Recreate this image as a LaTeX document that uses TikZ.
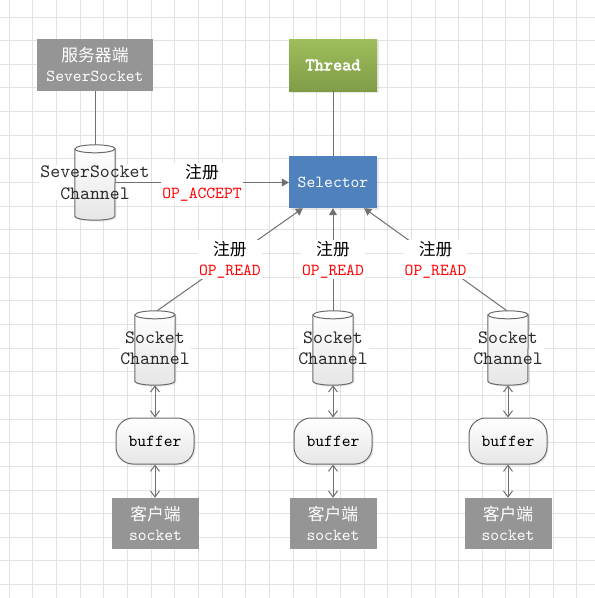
\documentclass[tikz,border=0pt]{standalone}
\usepackage{fontspec}
\newfontfamily\cjk{Noto Sans CJK SC}
\setmonofont{lmmono10-regular.otf}
\newfontfamily\tbold{lmmono10-regular.otf}[FakeBold=3]
\usetikzlibrary{arrows.meta,shadows,calc}
\definecolor{gridc}{HTML}{E2E2E2}
\definecolor{boxgray}{HTML}{959595}
\definecolor{selblue}{HTML}{4F81BD}
\definecolor{thtop}{HTML}{9EBE5C}
\definecolor{thbot}{HTML}{7F9D47}
\definecolor{linec}{HTML}{707070}
\definecolor{cylc}{HTML}{6A6A6A}
\definecolor{txtdark}{HTML}{2B2B2B}
\definecolor{opred}{HTML}{FF0000}
\definecolor{shadec}{HTML}{E6E6E6}
\newcommand{\drawcyl}[1]{%
  \path[cylshade] ([yshift=-4pt]#1.north west) -- ([yshift=4pt]#1.south west)
     arc[start angle=180,end angle=360,x radius=20pt,y radius=4pt]
     -- ([yshift=-4pt]#1.north east)
     arc[start angle=0,end angle=180,x radius=20pt,y radius=4pt] -- cycle;
  \draw[cylc, line width=1pt] ([yshift=-4pt]#1.north west)
     arc[start angle=180,end angle=360,x radius=20pt,y radius=4pt];
}
\begin{document}
\begin{tikzpicture}[x=1pt,y=-1pt,
  mono/.style={font=\ttfamily\fontsize{16.8}{20}\selectfont},
  shad/.style={drop shadow={shadow xshift=1.5pt,shadow yshift=-1.5pt,opacity=0.18}},
  graybox/.style={rectangle, fill=boxgray, text=white, minimum width=87pt,
     minimum height=51pt, inner sep=0pt, align=center, mono},
  thrbox/.style={rectangle, top color=thtop, bottom color=thbot, text=white,
     minimum width=88pt, minimum height=52pt, inner sep=0pt, font=\tbold\fontsize{17.5}{20}\selectfont, shad},
  selbox/.style={rectangle, fill=selblue, text=white, minimum width=88pt,
     minimum height=52pt, inner sep=0pt, mono, shad},
  cylbox/.style={rectangle, minimum width=40pt, inner sep=0pt},
  cylshade/.style={draw=cylc, line width=1pt, top color=white, bottom color=shadec, shad},
  cyllab/.style={align=center, inner sep=1pt, text=txtdark,
     font=\ttfamily\fontsize{18.9}{21.5}\selectfont},
  bufbox/.style={rectangle, rounded corners=17pt, draw=cylc, line width=1pt,
     top color=white, bottom color=shadec, minimum width=78pt, minimum height=46pt,
     inner sep=0pt, mono, text=black, shad},
  conn/.style={draw=linec, line width=1pt},
  farrow/.style={conn, -{Triangle[length=7pt,width=8pt]}},
  darrow/.style={conn, {Straight Barb[length=6pt,width=9pt]}-{Straight Barb[length=6pt,width=9pt]}},
  lab/.style={fill=white, inner sep=1pt, align=center, mono, text=black}
]
\useasboundingbox (0,0) rectangle (595,598);
\fill[white] (0,0) rectangle (595,598);
\foreach \i in {0,...,24}{
  \draw[gridc, line width=1pt] ({9.3+23.65*\i},0) -- ({9.3+23.65*\i},598);
  \draw[gridc, line width=1pt] (0,{17+23.65*\i}) -- (595,{17+23.65*\i});
}
% top boxes
\node[graybox, minimum width=116pt, minimum height=52pt] (srv) at (95,65) {{\cjk 服务器端}\\SeverSocket};
\node[thrbox] (thr) at (333,65) {Thread};
\node[selbox] (sel) at (333,182) {Selector};
% cylinders
\node[cylbox, minimum height=75pt] (ssc) at (95,182.5) {};
\node[cylbox, minimum height=74pt] (sc1) at (155,348) {};
\node[cylbox, minimum height=74pt] (sc2) at (333,348) {};
\node[cylbox, minimum height=74pt] (sc3) at (508,348) {};
\node[cyllab, fill=white, text opacity=0] (sscbg) at (ssc) {SeverSocket\\Channel};
\node[cyllab, fill=white, text opacity=0] (sc1bg) at (sc1) {Socket\\Channel};
\node[cyllab, fill=white, text opacity=0] (sc2bg) at (sc2) {Socket\\Channel};
\node[cyllab, fill=white, text opacity=0] (sc3bg) at (sc3) {Socket\\Channel};
\drawcyl{ssc}
\drawcyl{sc1}
\drawcyl{sc2}
\drawcyl{sc3}
\node[cyllab] (ssclab) at (ssc) {SeverSocket\\Channel};
\node[cyllab] (sc1lab) at (sc1) {Socket\\Channel};
\node[cyllab] (sc2lab) at (sc2) {Socket\\Channel};
\node[cyllab] (sc3lab) at (sc3) {Socket\\Channel};
% buffers
\node[bufbox] (buf1) at (155,441) {buffer};
\node[bufbox] (buf2) at (333,441) {buffer};
\node[bufbox] (buf3) at (508,441) {buffer};
% clients
\node[graybox] (cli1) at (155.5,523.5) {{\cjk 客户端}\\socket};
\node[graybox] (cli2) at (333,523.5) {{\cjk 客户端}\\socket};
\node[graybox] (cli3) at (508,523.5) {{\cjk 客户端}\\socket};
% connectors
\draw[conn] (srv.south) -- (ssc.north);
\draw[conn] (thr.south) -- (sel.north);
\draw[farrow] (ssc.east) -- (ssc.east -| sel.west)
  node[lab, midway] (l0) {{\cjk 注册}\\\textcolor{opred}{OP\_ACCEPT}};
\draw[farrow] ([xshift=2pt]sc1.north) -- ([xshift=14pt]sel.south west)
  node[lab, midway] (l1) {{\cjk 注册}\\\textcolor{opred}{OP\_READ}};
\draw[farrow] (sc2.north) -- (sel.south)
  node[lab, midway] (l2) {{\cjk 注册}\\\textcolor{opred}{OP\_READ}};
\draw[farrow] ([xshift=-1pt]sc3.north) -- ([xshift=-13pt]sel.south east)
  node[lab, midway] (l3) {{\cjk 注册}\\\textcolor{opred}{OP\_READ}};
\foreach \k in {1,2,3}{
  \draw[darrow] (sc\k.south) -- (buf\k.north);
  \draw[darrow] (buf\k.south) -- (cli\k.north -| buf\k.south);
}
\end{tikzpicture}
\end{document}
